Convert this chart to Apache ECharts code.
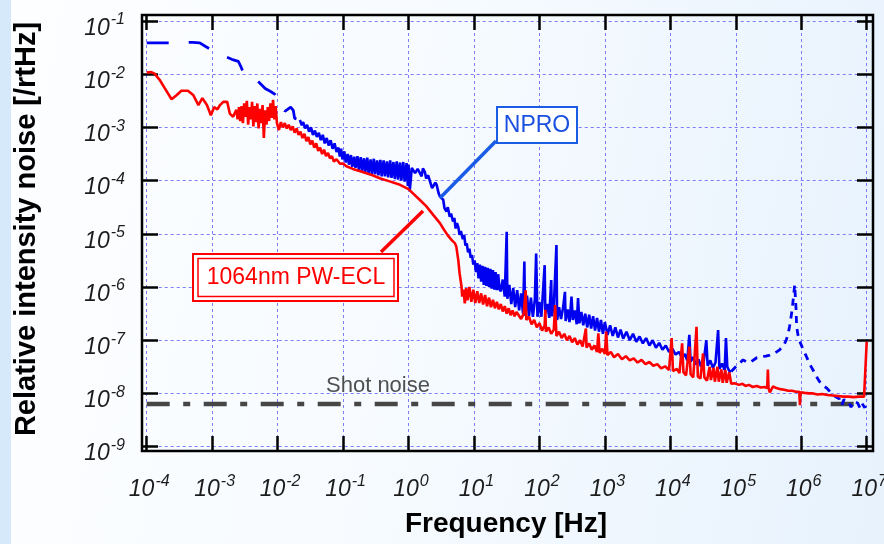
<!DOCTYPE html>
<html>
<head>
<meta charset="utf-8">
<title>Relative intensity noise</title>
<script src="https://cdn.jsdelivr.net/npm/echarts@6/dist/echarts.min.js"></script>
<style>
  html, body { margin: 0; padding: 0; }
  body {
    background:
      linear-gradient(to right, #d5e9fb 0, #d5e9fb 11px, rgba(255,255,255,0) 11px),
      linear-gradient(100deg, #fdfeff 0%, #f7fbff 45%, #e7f2fd 100%);
  }
  #main { width: 884px; height: 544px; }
</style>
</head>
<body>
<div id="main"></div>
<script>
// all points are [log10(frequency / Hz), log10(RIN / rtHz)]

// NPRO, low frequency part (drawn dashed)
var nproLow = [
  [-4.00,-1.41],[-3.62,-1.41],[-3.30,-1.40],[-3.19,-1.41],[-3.10,-1.48],[-3.00,-1.55],
  [-2.85,-1.64],[-2.70,-1.72],[-2.60,-1.76],[-2.56,-1.86],[-2.52,-1.98],[-2.40,-2.08],
  [-2.32,-2.11],[-2.19,-2.27],[-2.10,-2.33],[-2.04,-2.38],[-1.98,-2.46],[-1.91,-2.51],
  [-1.89,-2.70],[-1.80,-2.62],[-1.76,-2.68],[-1.74,-2.83],[-1.66,-2.86]
];

// NPRO, dense middle part
var nproMid = [
  [-1.66,-2.86],[-1.63,-2.96],[-1.61,-2.90],[-1.58,-3.02],[-1.55,-2.95],[-1.52,-3.08],
  [-1.49,-3.00],[-1.46,-3.14],[-1.43,-3.06],[-1.40,-3.18],[-1.37,-3.10],[-1.34,-3.24],
  [-1.31,-3.14],[-1.28,-3.30],[-1.25,-3.20],[-1.22,-3.34],[-1.19,-3.24],[-1.16,-3.40],
  [-1.13,-3.30],[-1.10,-3.46],[-1.07,-3.38],[-1.05,-3.55],[-1.03,-3.40],[-1.01,-3.60],
  [-0.98,-3.45],[-0.96,-3.66],[-0.93,-3.50],[-0.91,-3.70],[-0.88,-3.52],[-0.86,-3.74],
  [-0.83,-3.55],[-0.81,-3.76],[-0.78,-3.54],[-0.76,-3.80],[-0.73,-3.56],[-0.71,-3.82],
  [-0.68,-3.58],[-0.66,-3.84],[-0.63,-3.57],[-0.61,-3.86],[-0.58,-3.60],[-0.56,-3.88],
  [-0.53,-3.59],[-0.51,-3.88],[-0.48,-3.62],[-0.46,-3.90],[-0.43,-3.61],[-0.41,-3.92],
  [-0.38,-3.62],[-0.36,-3.92],[-0.33,-3.64],[-0.31,-3.94],[-0.28,-3.62],[-0.26,-3.95],
  [-0.23,-3.65],[-0.21,-3.97],[-0.18,-3.64],[-0.16,-3.98],[-0.13,-3.66],[-0.11,-4.00],
  [-0.08,-3.65],[-0.06,-4.02],[-0.03,-3.67],[-0.01,-4.10],[0.00,-3.70],[0.02,-4.18],
  [0.05,-3.76],[0.07,-3.74],[0.10,-3.86],[0.14,-3.78],[0.17,-3.80],[0.20,-3.92],
  [0.22,-3.77],[0.25,-3.84],[0.27,-3.96],[0.30,-3.90],[0.33,-3.93],[0.36,-4.14],
  [0.38,-4.11],[0.41,-4.04],[0.43,-4.08],[0.46,-4.24],[0.48,-4.30],[0.51,-4.28],
  [0.53,-4.36],[0.55,-4.52],[0.58,-4.58],[0.60,-4.50],[0.63,-4.68],[0.65,-4.62],
  [0.68,-4.77],[0.70,-4.70],[0.72,-4.90],[0.74,-4.80],[0.76,-4.87],[0.78,-5.02],
  [0.80,-4.95],[0.83,-5.10],[0.85,-5.02],[0.87,-5.22],[0.89,-5.18],[0.91,-5.35],
  [0.93,-5.28],[0.95,-5.45],[0.97,-5.40],[0.99,-5.58],[1.01,-5.50],[1.03,-5.72],
  [1.05,-5.55],[1.07,-5.84],[1.09,-5.58],[1.11,-5.90],[1.13,-5.60],[1.15,-5.96],
  [1.17,-5.62],[1.19,-5.98],[1.21,-5.64],[1.23,-6.00],[1.25,-5.66],[1.27,-6.03],
  [1.29,-5.68],[1.31,-6.05],[1.33,-5.72],[1.35,-6.06],[1.37,-5.76],[1.39,-6.04],
  [1.41,-6.08],[1.44,-5.86],[1.47,-6.18],[1.50,-4.96],[1.51,-6.22],[1.54,-5.96],
  [1.57,-6.32],[1.60,-6.02],[1.63,-6.38],[1.66,-6.06],[1.69,-6.44],[1.72,-6.12],
  [1.75,-6.50],[1.77,-5.52],[1.78,-6.54],[1.81,-6.16],[1.84,-6.55],[1.87,-6.20],
  [1.90,-6.56],[1.93,-6.24],[1.95,-5.37],[1.97,-6.56],[2.00,-6.28],[2.03,-6.56],
  [2.08,-5.59],[2.09,-6.50],[2.12,-6.32],[2.15,-6.58],[2.18,-5.87],[2.19,-6.55],
  [2.22,-6.35],[2.26,-5.21],[2.27,-6.62],[2.30,-6.38],[2.33,-6.60],[2.36,-6.40],
  [2.39,-6.09],[2.40,-6.64],[2.43,-6.42],[2.46,-6.66],[2.49,-6.18],[2.51,-6.62],
  [2.54,-6.44],[2.57,-6.70],[2.59,-6.21],[2.61,-6.68],[2.64,-6.47],[2.67,-6.72],
  [2.70,-6.50],[2.73,-6.76],[2.76,-6.52],[2.79,-6.78],[2.82,-6.55],[2.85,-6.82],
  [2.88,-6.58],[2.91,-6.84],[2.94,-6.62],[2.97,-6.88],[3.00,-6.66],[3.04,-6.90],
  [3.08,-6.72],[3.12,-6.92],[3.16,-6.76],[3.20,-6.95],[3.24,-6.80],[3.28,-6.97],
  [3.33,-6.84],[3.38,-7.00],[3.43,-6.88],[3.48,-7.03],[3.53,-6.93],[3.58,-7.06],
  [3.63,-6.96],[3.68,-7.10],[3.73,-7.00],[3.78,-7.14],[3.83,-7.05],[3.88,-7.18],
  [3.93,-7.10],[3.98,-7.22],[4.03,-7.16],[4.08,-7.27],[4.13,-7.22],[4.18,-7.33],
  [4.22,-7.26],[4.26,-7.38],[4.29,-6.90],[4.31,-7.40],[4.35,-7.32],[4.39,-7.46],
  [4.43,-7.36],[4.47,-7.50],[4.51,-7.40],[4.55,-7.00],[4.57,-7.48],[4.61,-7.38],
  [4.65,-7.52],[4.69,-7.42],[4.73,-6.81],[4.75,-7.54],[4.79,-7.44],[4.83,-7.56],
  [4.85,-6.96],[4.87,-7.50],[4.90,-7.58],[4.93,-7.59]
];

// NPRO, relaxation oscillation peak and above (drawn dashed)
var nproHigh = [
  [4.93,-7.59],[5.00,-7.50],[5.11,-7.37],[5.18,-7.42],[5.24,-7.40],[5.32,-7.33],
  [5.39,-7.31],[5.46,-7.30],[5.52,-7.28],[5.60,-7.24],[5.67,-7.18],[5.73,-7.10],
  [5.77,-7.00],[5.80,-6.88],[5.82,-6.75],[5.84,-6.60],[5.86,-6.43],[5.88,-6.20],
  [5.90,-5.96],[5.91,-6.18],[5.92,-6.40],[5.93,-6.75],[5.95,-6.90],[5.97,-7.00],
  [6.02,-7.15],[6.08,-7.31],[6.13,-7.45],[6.18,-7.56],[6.23,-7.68],[6.28,-7.78],
  [6.33,-7.85],[6.39,-7.90],[6.45,-7.98],[6.52,-8.06],[6.58,-8.10],[6.62,-8.22],
  [6.65,-8.12],[6.72,-8.14],[6.76,-8.26],[6.80,-8.15],[6.86,-8.18],[6.90,-8.28],
  [6.93,-8.19],[6.97,-8.27],[7.00,-8.12]
];

// 1064nm PW-ECL
var pwEcl = [
  [-4.00,-1.97],[-3.93,-1.96],[-3.88,-1.99],[-3.80,-2.11],[-3.72,-2.27],[-3.62,-2.47],
  [-3.54,-2.39],[-3.47,-2.31],[-3.37,-2.31],[-3.29,-2.39],[-3.21,-2.58],[-3.15,-2.45],
  [-3.08,-2.58],[-3.02,-2.77],[-2.97,-2.62],[-2.92,-2.66],[-2.88,-2.58],[-2.83,-2.52],
  [-2.77,-2.52],[-2.73,-2.74],[-2.68,-2.80],[-2.63,-2.67],[-2.61,-2.85],[-2.59,-2.62],
  [-2.57,-2.88],[-2.55,-2.60],[-2.53,-2.92],[-2.51,-2.55],[-2.49,-2.80],[-2.47,-2.50],
  [-2.45,-2.95],[-2.43,-2.62],[-2.41,-2.85],[-2.39,-2.52],[-2.37,-2.98],[-2.35,-2.60],
  [-2.33,-2.90],[-2.31,-2.55],[-2.29,-3.02],[-2.27,-2.65],[-2.25,-2.92],[-2.23,-2.58],
  [-2.21,-3.20],[-2.19,-2.68],[-2.17,-2.95],[-2.15,-2.62],[-2.13,-2.88],[-2.11,-2.55],
  [-2.09,-2.82],[-2.07,-2.48],[-2.05,-2.85],[-2.03,-2.60],[-2.01,-2.92],[-1.98,-3.05],
  [-1.95,-2.90],[-1.92,-3.00],[-1.89,-2.92],[-1.86,-3.02],[-1.83,-2.95],[-1.80,-3.05],
  [-1.77,-2.98],[-1.74,-3.10],[-1.71,-3.02],[-1.68,-3.14],[-1.65,-3.08],[-1.62,-3.20],
  [-1.59,-3.12],[-1.56,-3.26],[-1.53,-3.18],[-1.50,-3.32],[-1.47,-3.25],[-1.44,-3.38],
  [-1.41,-3.30],[-1.38,-3.44],[-1.35,-3.38],[-1.32,-3.50],[-1.29,-3.42],[-1.26,-3.54],
  [-1.23,-3.48],[-1.20,-3.58],[-1.17,-3.54],[-1.14,-3.64],[-1.10,-3.60],[-1.05,-3.68],
  [-1.00,-3.68],[-0.95,-3.73],[-0.85,-3.78],[-0.70,-3.84],[-0.55,-3.90],[-0.43,-3.96],
  [-0.30,-4.01],[-0.13,-4.08],[0.00,-4.16],[0.17,-4.36],[0.27,-4.48],[0.38,-4.65],
  [0.48,-4.80],[0.53,-4.90],[0.60,-5.03],[0.66,-5.12],[0.71,-5.18],[0.73,-5.24],
  [0.76,-5.49],[0.78,-5.74],[0.81,-5.99],[0.82,-6.18],[0.84,-6.05],[0.86,-6.31],
  [0.88,-6.02],[0.90,-6.25],[0.93,-6.00],[0.96,-6.28],[0.99,-6.05],[1.02,-6.30],
  [1.05,-6.08],[1.08,-6.30],[1.11,-6.12],[1.14,-6.33],[1.17,-6.15],[1.20,-6.36],
  [1.23,-6.20],[1.26,-6.38],[1.29,-6.24],[1.32,-6.40],[1.35,-6.28],[1.38,-6.42],
  [1.41,-6.32],[1.44,-6.46],[1.47,-6.36],[1.50,-6.50],[1.53,-6.40],[1.56,-6.53],
  [1.59,-6.44],[1.62,-6.55],[1.65,-6.47],[1.68,-6.46],[1.72,-6.60],[1.76,-6.50],
  [1.79,-6.06],[1.80,-6.62],[1.84,-6.56],[1.88,-6.70],[1.92,-6.62],[1.96,-6.76],
  [2.00,-6.68],[2.04,-6.82],[2.08,-6.72],[2.09,-6.43],[2.10,-6.84],[2.14,-6.76],
  [2.18,-6.88],[2.22,-6.80],[2.24,-6.34],[2.26,-6.92],[2.30,-6.84],[2.34,-6.96],
  [2.38,-6.88],[2.42,-7.00],[2.46,-6.92],[2.50,-7.04],[2.54,-6.96],[2.58,-7.08],
  [2.62,-7.00],[2.66,-7.12],[2.71,-6.78],[2.72,-7.14],[2.76,-7.06],[2.80,-7.18],
  [2.84,-7.10],[2.88,-7.22],[2.90,-6.87],[2.92,-7.24],[2.96,-7.16],[3.00,-7.26],
  [3.02,-6.84],[3.04,-7.28],[3.09,-7.22],[3.14,-7.32],[3.20,-7.26],[3.26,-7.36],
  [3.32,-7.30],[3.38,-7.38],[3.44,-7.34],[3.50,-7.42],[3.56,-7.37],[3.62,-7.45],
  [3.68,-7.41],[3.74,-7.48],[3.80,-7.45],[3.86,-7.53],[3.92,-7.49],[3.98,-7.56],
  [4.02,-6.96],[4.04,-7.58],[4.10,-7.54],[4.14,-7.62],[4.18,-7.06],[4.20,-7.60],
  [4.24,-7.66],[4.29,-7.12],[4.31,-7.64],[4.35,-7.70],[4.40,-6.75],[4.42,-7.68],
  [4.46,-7.72],[4.50,-7.25],[4.52,-7.70],[4.56,-7.76],[4.60,-7.50],[4.62,-7.75],
  [4.66,-7.52],[4.68,-7.78],[4.72,-7.50],[4.74,-7.78],[4.78,-7.55],[4.80,-7.80],
  [4.84,-7.56],[4.86,-7.80],[4.90,-7.60],[4.93,-7.82],[4.98,-7.81],[5.05,-7.84],
  [5.10,-7.82],[5.15,-7.86],[5.20,-7.84],[5.26,-7.88],[5.32,-7.86],[5.38,-7.89],
  [5.44,-7.88],[5.48,-7.90],[5.49,-7.55],[5.50,-7.90],[5.52,-7.98],[5.57,-7.87],
  [5.62,-7.90],[5.68,-7.92],[5.74,-7.93],[5.80,-7.95],[5.86,-7.95],[5.92,-7.97],
  [5.97,-7.97],[5.98,-8.22],[5.99,-7.98],[6.05,-7.99],[6.12,-8.00],[6.18,-8.00],
  [6.25,-8.02],[6.32,-8.01],[6.40,-8.03],[6.48,-8.04],[6.56,-8.05],[6.64,-8.06],
  [6.72,-8.06],[6.80,-8.07],[6.88,-8.06],[6.96,-8.06],[6.99,-8.08],[7.00,-7.03]
];

var shotNoise = [[-4, -8.2], [7, -8.2]];

var chart = echarts.init(document.getElementById('main'));

var font = "'Liberation Sans', Arial, sans-serif";
var ink = '#1c1c1c';
var gridColor = '#7c7cf6';

function powLabel(v) {
  return '{b|10}{s|' + v + '}';
}
var supStyle = { fontFamily: font, fontSize: 16, fontStyle: 'italic', color: ink, lineHeight: 17, verticalAlign: 'top', padding: [3, 0, 0, 1] };
var labelRich = {
  b: { fontFamily: font, fontSize: 23, fontStyle: 'italic', color: ink, lineHeight: 24, padding: [15, 0, 0, 0] },
  s: supStyle
};
var xLabelRich = {
  b: { fontFamily: font, fontSize: 23, fontStyle: 'italic', color: ink, lineHeight: 24, padding: [15, 0, 0, 5] },
  s: supStyle
};

var tickStyle = { color: '#000', width: 2.5 };
var split = { show: true, lineStyle: { color: gridColor, width: 1, type: [3, 3] } };
var noLine = { show: false, onZero: false };

var option = {
  animation: false,
  backgroundColor: 'transparent',
  grid: [
    { left: 146.7, right: 17.3, top: 21, bottom: 97.4, outerBoundsMode: 'none' },
    { left: 142, right: 11, top: 15, bottom: 93, show: true, borderColor: '#000', borderWidth: 2.5,
      backgroundColor: 'transparent', outerBoundsMode: 'none' }
  ],
  xAxis: [
    { type: 'value', gridIndex: 0, min: -4, max: 7, interval: 1, position: 'bottom', offset: 4.5,
      axisLine: noLine, axisTick: { inside: true, length: 15, lineStyle: tickStyle },
      axisLabel: { margin: 19, formatter: powLabel, rich: xLabelRich }, splitLine: split },
    { type: 'value', gridIndex: 0, min: -4, max: 7, interval: 1, position: 'top', offset: 6,
      axisLine: noLine, axisTick: { inside: true, length: 15, lineStyle: tickStyle },
      axisLabel: { show: false }, splitLine: { show: false } },
    { type: 'value', gridIndex: 1, show: false, min: 0, max: 1 }
  ],
  yAxis: [
    { type: 'value', gridIndex: 0, min: -9, max: -1, interval: 1, position: 'left', offset: 4.7,
      axisLine: noLine, axisTick: { inside: true, length: 16, lineStyle: tickStyle },
      axisLabel: { margin: 17, formatter: powLabel, rich: labelRich }, splitLine: split },
    { type: 'value', gridIndex: 0, min: -9, max: -1, interval: 1, position: 'right', offset: 6.3,
      axisLine: noLine, axisTick: { inside: true, length: 16, lineStyle: tickStyle },
      axisLabel: { show: false }, splitLine: { show: false } },
    { type: 'value', gridIndex: 1, show: false, min: 0, max: 1 }
  ],
  series: [
    { name: 'Shot noise', type: 'line', data: shotNoise, showSymbol: false, symbol: 'none',
      lineStyle: { color: '#464646', width: 4.5, type: [23, 13.5, 7, 13.5] }, z: 2 },
    { name: 'NPRO low', type: 'line', data: nproLow, symbol: 'none',
      lineStyle: { color: '#0000f0', width: 2.8, type: [22, 20] }, z: 3 },
    { name: 'NPRO', type: 'line', data: nproMid, symbol: 'none',
      lineStyle: { color: '#0000f0', width: 2.6 }, z: 3 },
    { name: 'NPRO high', type: 'line', data: nproHigh, symbol: 'none',
      lineStyle: { color: '#0000f0', width: 2.8, type: [7, 6] }, z: 3 },
    { name: '1064nm PW-ECL', type: 'line', data: pwEcl, symbol: 'none',
      lineStyle: { color: '#ff0000', width: 2.6 }, z: 4 }
  ],
  graphic: [
    { type: 'line', shape: { x1: 440, y1: 198, x2: 496, y2: 141 },
      style: { stroke: '#1a5ce6', lineWidth: 3.5 }, z: 50 },
    { type: 'rect', shape: { x: 497, y: 107, width: 80, height: 36 },
      style: { fill: '#ffffff', stroke: '#1a5ce6', lineWidth: 2 }, z: 50 },
    { type: 'text', x: 537, y: 126, z: 51,
      style: { text: 'NPRO', fill: '#1a4fe0', font: '23px ' + font, align: 'center', verticalAlign: 'middle' } },
    { type: 'line', shape: { x1: 381, y1: 252, x2: 423, y2: 211 },
      style: { stroke: '#ff0000', lineWidth: 3.5 }, z: 50 },
    { type: 'rect', shape: { x: 193, y: 254, width: 205, height: 47 },
      style: { fill: '#ffffff', stroke: '#ff0000', lineWidth: 2 }, z: 50 },
    { type: 'rect', shape: { x: 198, y: 258.5, width: 196, height: 38 },
      style: { fill: 'none', stroke: '#ff0000', lineWidth: 1.5 }, z: 51 },
    { type: 'text', x: 296, y: 278, z: 52,
      style: { text: '1064nm PW-ECL', fill: '#ff0000', font: '23px ' + font, align: 'center', verticalAlign: 'middle' } },
    { type: 'text', x: 378, y: 386, z: 52,
      style: { text: 'Shot noise', fill: '#505050', font: '22px ' + font, align: 'center', verticalAlign: 'middle' } },
    { type: 'text', x: 506, y: 524, z: 52,
      style: { text: 'Frequency [Hz]', fill: '#000', font: 'bold 28px ' + font, align: 'center', verticalAlign: 'middle' } },
    { type: 'text', x: 27, y: 229, rotation: Math.PI / 2, z: 52,
      style: { text: 'Relative intensity noise [/rtHz]', fill: '#000', font: 'bold 29px ' + font, align: 'center', verticalAlign: 'middle' } }
  ]
};

chart.setOption(option);
</script>
</body>
</html>
